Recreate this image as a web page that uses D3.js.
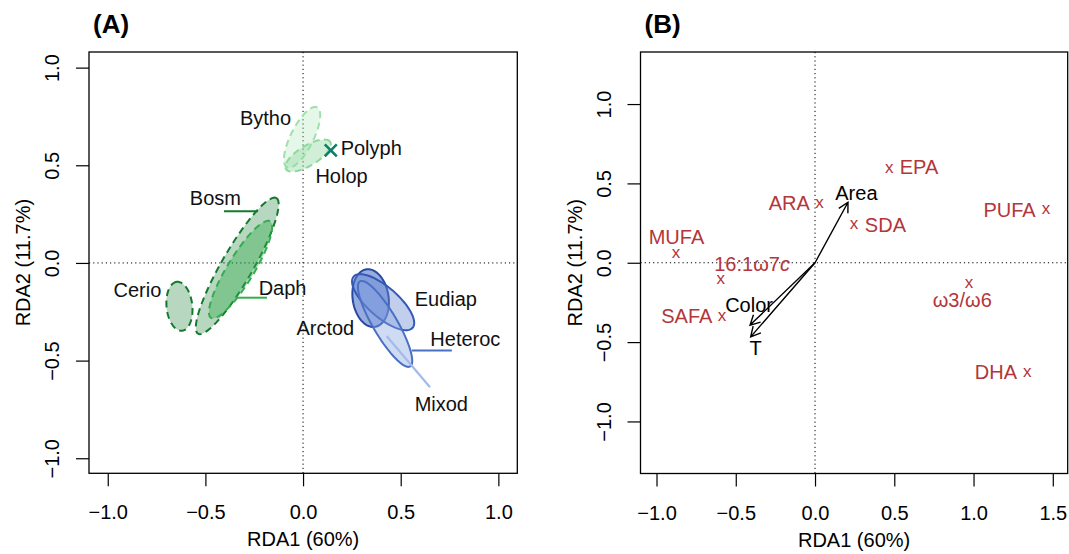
<!DOCTYPE html>
<html>
<head>
<meta charset="utf-8">
<script src="https://cdn.jsdelivr.net/npm/d3@7"></script>
<style>
    body { margin: 0; background: #fff; }
    text { font-family: "Liberation Sans", Arial, Helvetica, sans-serif; }
</style>
</head>
<body>
<div id="viz"></div>
<script>
// ---------- panel A : zooplankton groups (RDA scores, ellipses) ----------
let groupNames = ["Cerio", "Bosm", "Daph", "Bytho", "Holop", "Polyph", "Arctod", "Eudiap", "Heteroc", "Mixod"];
let groupX = [-0.633, -0.337, -0.320, -0.005, 0.026, 0.142, 0.346, 0.410, 0.420, 0.539];
let groupY = [-0.222, -0.015, -0.034, 0.643, 0.550, 0.576, -0.180, -0.201, -0.312, -0.505];
// semi axes and rotation of each ellipse (0 = single point / line)
let groupA = [0.126, 0.401, 0.290, 0.172, 0.133, 0, 0.149, 0.200, 0.253, 0.172];
let groupB = [0.066, 0.080, 0.068, 0.058, 0.051, 0, 0.092, 0.077, 0.062, 0];
let groupAngle = [96, 60, 58.6, 63.4, 31.5, 0, 98.5, -41, -59.5, -49.8];
let groupLabelX = [-0.848, -0.449, -0.105, -0.192, 0.197, 0.349, 0.114, 0.731, 0.831, 0.708];
let groupLabelY = [-0.137, 0.335, -0.127, 0.740, 0.443, 0.591, -0.332, -0.185, -0.388, -0.722];

// leader lines next to some labels
let leaderNames = ["Bosm", "Daph", "Heteroc"];
let leaderX1 = [-0.405, -0.344, 0.557];
let leaderX2 = [-0.231, -0.185, 0.762];
let leaderY = [0.265, -0.178, -0.448];

// ---------- panel B : fatty acids + environmental arrows ----------
let fattyNames = ["EPA", "ARA", "SDA", "PUFA", "MUFA", "16:1ω7c", "SAFA", "ω3/ω6", "DHA"];
let fattyX = [0.469, 0.028, 0.246, 1.457, -0.877, -0.595, -0.587, 0.972, 1.339];
let fattyY = [0.591, 0.373, 0.240, 0.332, 0.055, -0.109, -0.339, -0.130, -0.691];
let fattyLabelX = [0.656, -0.163, 0.444, 1.227, -0.874, -0.397, -0.809, 0.929, 1.141];
let fattyLabelY = [0.604, 0.375, 0.238, 0.332, 0.164, -0.008, -0.336, -0.235, -0.691];

let envNames = ["Area", "Color", "T"];
let envX = [0.208, -0.410, -0.406];
let envY = [0.381, -0.393, -0.467];
let envLabelX = [0.261, -0.416, -0.375];
let envLabelY = [0.442, -0.267, -0.538];

let ticksA = [-1, -0.5, 0, 0.5, 1];
let ticksBx = [-1, -0.5, 0, 0.5, 1, 1.5];
let ticksBy = [-1, -0.5, 0, 0.5, 1];

// styles per group
let groupStroke = ["#137a30", "#137a30", "#34ad4e", "#9fe0ab", "#8fd89d", "#0b7f69", "#284aa3", "#3459b6", "#4a70c4", "#a4bae9"];
let groupFill = ["#137a30", "#137a30", "#34ad4e", "#a9e6b4", "#92da a0", "#0b7f69", "#4466c4", "#6586d2", "#88a6e2", "none"];
groupFill[4] = "#92daa0";
let groupFillOpacity = [0.3, 0.3, 0.42, 0.3, 0.42, 0, 0.55, 0.4, 0.4, 0];
let groupDashed = [true, true, true, true, true, false, false, false, false, false];
let leaderColor = ["#137a30", "#34ad4e", "#4a70c4"];
let red = "#b3363a";

let w = 1069;
let h = 554;

let viz = d3.select("#viz")
    .append("svg")
    .attr("width", w)
    .attr("height", h)
    .attr("viewBox", "0 0 " + w + " " + h);

viz.append("rect").attr("width", w).attr("height", h).attr("fill", "#fff");

function fmt(d) {
    return d3.format(".1f")(d);
}

// draws box, axes, dotted zero lines, titles; returns a group
function makePanel(xScale, yScale, xTicks, yTicks, title) {
    let g = viz.append("g");
    let x0 = xScale.range()[0], x1 = xScale.range()[1];
    let y0 = yScale.range()[0], y1 = yScale.range()[1];

    // dotted zero lines
    g.append("line")
        .attr("x1", xScale(0)).attr("x2", xScale(0))
        .attr("y1", y1).attr("y2", y0)
        .attr("stroke", "#000").attr("stroke-width", 1)
        .attr("stroke-dasharray", "1.2,3");
    g.append("line")
        .attr("x1", x0).attr("x2", x1)
        .attr("y1", yScale(0)).attr("y2", yScale(0))
        .attr("stroke", "#000").attr("stroke-width", 1)
        .attr("stroke-dasharray", "1.2,3");

    let xAxis = d3.axisBottom(xScale).tickValues(xTicks).tickSize(13).tickFormat(fmt);
    let xAxisGroup = g.append("g")
        .attr("transform", "translate(0," + y0 + ")")
        .call(xAxis);
    xAxisGroup.select(".domain").remove();
    xAxisGroup.selectAll("line").attr("stroke", "#000").attr("stroke-width", 1.2);
    xAxisGroup.selectAll("text")
        .attr("y", 39).attr("dy", "0.35em")
        .attr("font-size", 20)
        .attr("font-family", "Liberation Sans, Arial, sans-serif")
        .attr("fill", "#000");

    let yAxis = d3.axisLeft(yScale).tickValues(yTicks).tickSize(13).tickFormat(fmt);
    let yAxisGroup = g.append("g")
        .attr("transform", "translate(" + x0 + ",0)")
        .call(yAxis);
    yAxisGroup.select(".domain").remove();
    yAxisGroup.selectAll("line").attr("stroke", "#000").attr("stroke-width", 1.2);
    yAxisGroup.selectAll("text")
        .attr("x", 0).attr("y", 0)
        .attr("dy", "0.35em")
        .attr("text-anchor", "middle")
        .attr("transform", "translate(-37,0) rotate(-90)")
        .attr("font-size", 20)
        .attr("font-family", "Liberation Sans, Arial, sans-serif")
        .attr("fill", "#000");

    // box
    g.append("rect")
        .attr("x", x0).attr("y", y1)
        .attr("width", x1 - x0).attr("height", y0 - y1)
        .attr("fill", "none").attr("stroke", "#000").attr("stroke-width", 1.3);

    g.append("text")
        .attr("x", (x0 + x1) / 2).attr("y", y0 + 66).attr("dy", "0.35em")
        .attr("text-anchor", "middle").attr("font-size", 20)
        .text("RDA1 (60%)");
    g.append("text")
        .attr("transform", "translate(" + (x0 - 66) + "," + ((y0 + y1) / 2) + ") rotate(-90)")
        .attr("dy", "0.35em")
        .attr("text-anchor", "middle").attr("font-size", 20)
        .text("RDA2 (11.7%)");

    g.append("text")
        .attr("x", x0 + 4).attr("y", 33)
        .attr("font-size", 26).attr("font-weight", "bold")
        .text(title);
    return g;
}

// ---------------- panel A ----------------
let xA = d3.scaleLinear().domain([-1.096, 1.097]).range([89, 517.3]);
let yA = d3.scaleLinear().domain([-1.077, 1.080]).range([473.3, 52]);
let panelA = makePanel(xA, yA, ticksA, ticksA, "(A)");

let steps = d3.range(0, 73).map(function (i) { return i / 72 * 2 * Math.PI; });

function ellipsePoints(i) {
    let th = groupAngle[i] * Math.PI / 180;
    return steps.map(function (t) {
        let u = groupA[i] * Math.cos(t);
        let v = groupB[i] * Math.sin(t);
        return [groupX[i] + u * Math.cos(th) - v * Math.sin(th),
                groupY[i] + u * Math.sin(th) + v * Math.cos(th)];
    });
}

let ellipseLine = d3.line()
    .x(function (d) { return xA(d[0]); })
    .y(function (d) { return yA(d[1]); });

groupNames.forEach(function (name, i) {
    if (groupA[i] == 0) {
        // single point -> cross marker
        let cx = xA(groupX[i]), cy = yA(groupY[i]);
        panelA.append("path")
            .attr("d", "M" + (cx - 6) + "," + (cy - 6) + "L" + (cx + 6) + "," + (cy + 6) +
                "M" + (cx - 6) + "," + (cy + 6) + "L" + (cx + 6) + "," + (cy - 6))
            .attr("stroke", groupStroke[i]).attr("stroke-width", 2.6);
        return;
    }
    if (groupB[i] == 0) {
        // degenerate ellipse -> segment
        let th = groupAngle[i] * Math.PI / 180;
        panelA.append("line")
            .attr("x1", xA(groupX[i] - groupA[i] * Math.cos(th)))
            .attr("y1", yA(groupY[i] - groupA[i] * Math.sin(th)))
            .attr("x2", xA(groupX[i] + groupA[i] * Math.cos(th)))
            .attr("y2", yA(groupY[i] + groupA[i] * Math.sin(th)))
            .attr("stroke", groupStroke[i]).attr("stroke-width", 2.2);
        return;
    }
    panelA.append("path")
        .attr("d", ellipseLine(ellipsePoints(i)) + "Z")
        .attr("fill", groupFill[i])
        .attr("fill-opacity", groupFillOpacity[i])
        .attr("stroke", groupStroke[i])
        .attr("stroke-width", 2)
        .attr("stroke-dasharray", groupDashed[i] ? "7,4.5" : null);
});

leaderNames.forEach(function (name, i) {
    panelA.append("line")
        .attr("x1", xA(leaderX1[i])).attr("x2", xA(leaderX2[i]))
        .attr("y1", yA(leaderY[i])).attr("y2", yA(leaderY[i]))
        .attr("stroke", leaderColor[i]).attr("stroke-width", 2);
});

panelA.selectAll(".glabel")
    .data(groupNames)
    .enter()
    .append("text")
    .attr("class", "glabel")
    .attr("x", function (d, i) { return xA(groupLabelX[i]); })
    .attr("y", function (d, i) { return yA(groupLabelY[i]); })
    .attr("dy", "0.35em")
    .attr("text-anchor", "middle")
    .attr("font-size", 20)
    .attr("fill", "#111")
    .text(function (d) { return d; });

// ---------------- panel B ----------------
let xB = d3.scaleLinear().domain([-1.101, 1.594]).range([640.5, 1067.7]);
let yB = d3.scaleLinear().domain([-1.328, 1.328]).range([473.5, 52]);
let panelB = makePanel(xB, yB, ticksBx, ticksBy, "(B)");

// arrows from origin
envNames.forEach(function (name, i) {
    let ox = xB(0), oy = yB(0);
    let tx = xB(envX[i]), ty = yB(envY[i]);
    let ang = Math.atan2(ty - oy, tx - ox);
    let len = 11, spread = 28 * Math.PI / 180;
    let b1x = tx - len * Math.cos(ang - spread), b1y = ty - len * Math.sin(ang - spread);
    let b2x = tx - len * Math.cos(ang + spread), b2y = ty - len * Math.sin(ang + spread);
    panelB.append("path")
        .attr("d", "M" + ox + "," + oy + "L" + tx + "," + ty +
            "M" + b1x + "," + b1y + "L" + tx + "," + ty + "L" + b2x + "," + b2y)
        .attr("fill", "none")
        .attr("stroke", "#000")
        .attr("stroke-width", 1.4);
    panelB.append("text")
        .attr("x", xB(envLabelX[i])).attr("y", yB(envLabelY[i]))
        .attr("dy", "0.35em")
        .attr("text-anchor", "middle")
        .attr("font-size", 20)
        .text(name);
});

panelB.selectAll(".fmark")
    .data(fattyNames)
    .enter()
    .append("text")
    .attr("class", "fmark")
    .attr("x", function (d, i) { return xB(fattyX[i]); })
    .attr("y", function (d, i) { return yB(fattyY[i]); })
    .attr("dy", "0.26em")
    .attr("text-anchor", "middle")
    .attr("font-size", 17)
    .attr("fill", red)
    .text("x");

let flabels = panelB.selectAll(".flabel")
    .data(fattyNames)
    .enter()
    .append("text")
    .attr("class", "flabel")
    .attr("x", function (d, i) { return xB(fattyLabelX[i]); })
    .attr("y", function (d, i) { return yB(fattyLabelY[i]); })
    .attr("dy", "0.35em")
    .attr("text-anchor", "middle")
    .attr("font-size", 20)
    .attr("fill", red);

flabels.each(function (d) {
    let t = d3.select(this);
    if (d == "16:1ω7c") {
        t.append("tspan").text("16:1ω7");
        t.append("tspan").attr("font-style", "italic").text("c");
    } else {
        t.text(d);
    }
});
</script>
</body>
</html>
